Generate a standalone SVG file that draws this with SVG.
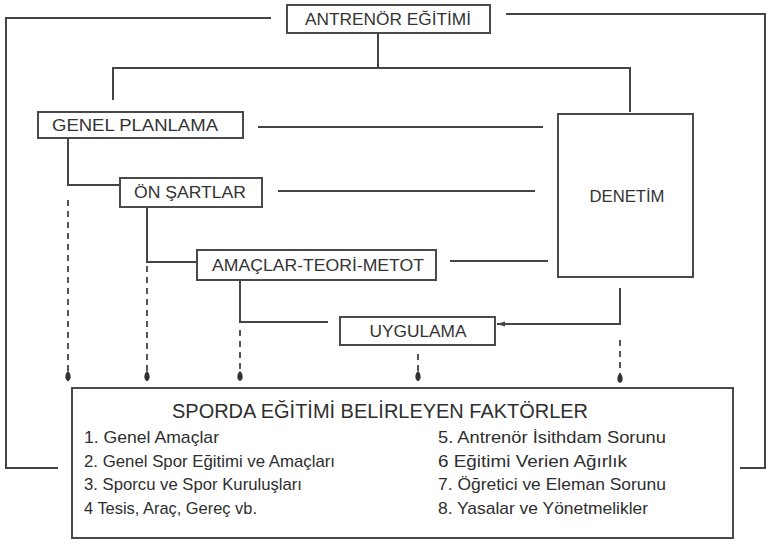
<svg xmlns="http://www.w3.org/2000/svg" width="771" height="546" viewBox="0 0 771 546">
<style>
.box{fill:#fff;stroke:#4a4a4a;stroke-width:2}
.ln{fill:none;stroke:#444;stroke-width:2}
.dash{fill:none;stroke:#555;stroke-width:2;stroke-dasharray:6 5}
.lbl{font-family:"Liberation Sans",Arial,sans-serif;font-size:16px;fill:#333;text-anchor:middle}
.ttl{font-family:"Liberation Sans",Arial,sans-serif;font-size:20px;fill:#2e2e2e;text-anchor:middle}
.itm{font-family:"Liberation Sans",Arial,sans-serif;font-size:17px;fill:#2e2e2e}
</style>
<defs>
<marker id="drop" viewBox="0 0 10 8" refX="10" refY="4" markerWidth="10" markerHeight="8" markerUnits="userSpaceOnUse" orient="auto">
<path d="M0 4 C2 1 9 0 10 4 C9 8 2 7 0 4 Z" fill="#333"/>
</marker>
<marker id="arr" viewBox="0 0 8 6" refX="8" refY="3" markerWidth="8" markerHeight="6" markerUnits="userSpaceOnUse" orient="auto">
<path d="M0 0.5 L8 3 L0 5.5 Z" fill="#444"/>
</marker>
</defs>
<g id="connectors">
<path class="ln" d="M271 18 H6 V468 H58"/>
<path class="ln" d="M506 14 H765 V468 H740"/>
<path class="ln" d="M378 33 V68"/>
<path class="ln" d="M113 100 V68 H630 V112"/>
<path class="ln" d="M258 127 H543"/>
<path class="ln" d="M68 138 V185 H120"/>
<path class="ln" d="M278 191 H535"/>
<path class="ln" d="M147 207 V262 H197"/>
<path class="ln" d="M450 261 H548"/>
<path class="ln" d="M240 280 V322 H328"/>
<path class="ln" d="M620 288 V324 H497" marker-end="url(#arr)"/>
<path class="dash" d="M68 200 V381" marker-end="url(#drop)"/>
<path class="dash" d="M147 266 V381" marker-end="url(#drop)"/>
<path class="dash" d="M240 330 V381" marker-end="url(#drop)"/>
<path class="dash" d="M418 354 V381" marker-end="url(#drop)"/>
<path class="dash" d="M620 340 V383" marker-end="url(#drop)"/>
</g>
<g id="antrenor-egitimi">
<rect class="box" x="287" y="5" width="203" height="28"/>
<text class="lbl" x="388" y="25" textLength="166" lengthAdjust="spacingAndGlyphs">ANTRENÖR EĞİTİMİ</text>
</g>
<g id="genel-planlama">
<rect class="box" x="38" y="112" width="205" height="26"/>
<text class="lbl" x="135" y="131" textLength="166" lengthAdjust="spacingAndGlyphs">GENEL PLANLAMA</text>
</g>
<g id="on-sartlar">
<rect class="box" x="120" y="178" width="142" height="29"/>
<text class="lbl" x="190" y="198" textLength="112" lengthAdjust="spacingAndGlyphs">ÖN ŞARTLAR</text>
</g>
<g id="amaclar">
<rect class="box" x="197" y="250" width="239" height="30"/>
<text class="lbl" x="318" y="271" textLength="212" lengthAdjust="spacingAndGlyphs">AMAÇLAR-TEORİ-METOT</text>
</g>
<g id="uygulama">
<rect class="box" x="340" y="317" width="155" height="28"/>
<text class="lbl" x="418" y="337" textLength="97" lengthAdjust="spacingAndGlyphs">UYGULAMA</text>
</g>
<g id="denetim">
<rect class="box" x="558" y="114" width="135" height="163"/>
<text class="lbl" x="627" y="202" textLength="75" lengthAdjust="spacingAndGlyphs">DENETİM</text>
</g>
<g id="faktorler">
<rect class="box" x="72" y="388" width="661" height="150"/>
<text class="ttl" x="380" y="418" textLength="416" lengthAdjust="spacingAndGlyphs">SPORDA EĞİTİMİ BELİRLEYEN FAKTÖRLER</text>
<text class="itm" x="84" y="443" textLength="135" lengthAdjust="spacingAndGlyphs">1. Genel Amaçlar</text>
<text class="itm" x="84" y="467" textLength="251" lengthAdjust="spacingAndGlyphs">2. Genel Spor Eğitimi ve Amaçları</text>
<text class="itm" x="84" y="490" textLength="218" lengthAdjust="spacingAndGlyphs">3. Sporcu ve Spor Kuruluşları</text>
<text class="itm" x="84" y="514" textLength="173" lengthAdjust="spacingAndGlyphs">4  Tesis, Araç, Gereç vb.</text>
<text class="itm" x="438" y="443" textLength="228" lengthAdjust="spacingAndGlyphs">5. Antrenör İsithdam Sorunu</text>
<text class="itm" x="438" y="467" textLength="189" lengthAdjust="spacingAndGlyphs">6  Eğitimi Verien Ağırlık</text>
<text class="itm" x="438" y="490" textLength="228" lengthAdjust="spacingAndGlyphs">7. Öğretici ve Eleman Sorunu</text>
<text class="itm" x="438" y="514" textLength="210" lengthAdjust="spacingAndGlyphs">8. Yasalar ve Yönetmelikler</text>
</g>
</svg>
